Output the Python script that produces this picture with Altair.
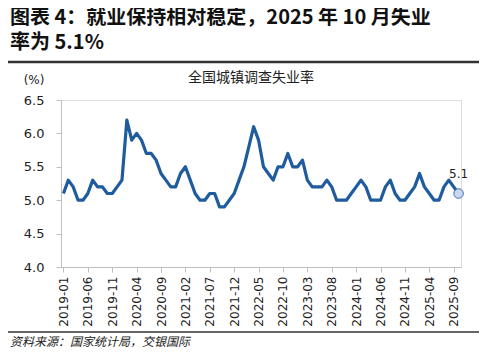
import altair as alt
import pandas as pd

months = [str(p) for p in pd.period_range("2019-01", "2025-10", freq="M")]
rate = [
    5.1, 5.3, 5.2, 5.0, 5.0, 5.1, 5.3, 5.2, 5.2, 5.1, 5.1, 5.2,   # 2019
    5.3, 6.2, 5.9, 6.0, 5.9, 5.7, 5.7, 5.6, 5.4, 5.3, 5.2, 5.2,   # 2020
    5.4, 5.5, 5.3, 5.1, 5.0, 5.0, 5.1, 5.1, 4.9, 4.9, 5.0, 5.1,   # 2021
    5.3, 5.5, 5.8, 6.1, 5.9, 5.5, 5.4, 5.3, 5.5, 5.5, 5.7, 5.5,   # 2022
    5.5, 5.6, 5.3, 5.2, 5.2, 5.2, 5.3, 5.2, 5.0, 5.0, 5.0, 5.1,   # 2023
    5.2, 5.3, 5.2, 5.0, 5.0, 5.0, 5.2, 5.3, 5.1, 5.0, 5.0, 5.1,   # 2024
    5.2, 5.4, 5.2, 5.1, 5.0, 5.0, 5.2, 5.3, 5.2, 5.1,             # 2025
]
tick_labels = ["2019-01", "2019-06", "2019-11", "2020-04", "2020-09", "2021-02",
               "2021-07", "2021-12", "2022-05", "2022-10", "2023-03", "2023-08",
               "2024-01", "2024-06", "2024-11", "2025-04", "2025-09"]
y_ticks = [4.0, 4.5, 5.0, 5.5, 6.0, 6.5]

title = "图表 4：就业保持相对稳定，2025 年 10 月失业\n率为 5.1%"
subtitle = "全国城镇调查失业率"
unit = "(%)"
source = "资料来源：国家统计局，交银国际"

df = pd.DataFrame({"month": months, "rate": rate})
last = df.tail(1)

CJK = "Noto Sans CJK SC"
LAT = "DejaVu Sans"
LINE = "#1F5C9E"

x_enc = alt.X("month:O", sort=months,
              scale=alt.Scale(type="point", paddingOuter=0.3),
              axis=alt.Axis(values=tick_labels, labelAngle=-90, labelFont=LAT,
                            labelFontSize=12, labelColor="#222", labelPadding=4,
                            tickColor="#BFBFBF", tickSize=5, domainColor="#BFBFBF",
                            domainWidth=1, title=None, grid=False, labelOverlap=False,
                            labelBaseline="middle", labelAlign="right"))
y_enc = alt.Y("rate:Q", scale=alt.Scale(domain=[4.0, 6.5], nice=False, zero=False),
              axis=alt.Axis(values=y_ticks, format=".1f", labelFont=LAT,
                            labelFontSize=13, labelColor="#222", labelPadding=12,
                            tickColor="#BFBFBF", tickSize=5, domainColor="#BFBFBF",
                            title=None, grid=False, labelOverlap=False,
                            labelFlush=False))

line = alt.Chart(df).mark_line(color=LINE, strokeWidth=3.2, strokeJoin="round").encode(
    x=x_enc, y=y_enc)
pt = alt.Chart(last).mark_point(filled=True, size=90, fill="#C9D8F0", stroke="#3A6CB0",
                                strokeWidth=1, opacity=1).encode(x=x_enc, y=y_enc)
lbl = alt.Chart(last).mark_text(font=LAT, fontSize=12, color="#222", dy=-20).encode(
    x=x_enc, y=y_enc, text=alt.Text("rate:Q", format=".1f"))


def txt(s, x, y, **kw):
    return alt.Chart(pd.DataFrame({"t": [s]})).mark_text(**kw).encode(
        x=alt.value(x), y=alt.value(y), text="t:N")


def hrule(y, x1, x2, w, c):
    return alt.Chart(pd.DataFrame({"a": [0]})).mark_rule(color=c, strokeWidth=w).encode(
        x=alt.value(x1), x2=alt.value(x2), y=alt.value(y))


tt = txt(title, -51, -76, font=CJK, fontSize=20, fontWeight="bold", color="#111",
         align="left", baseline="alphabetic", lineBreak="\n", lineHeight=25)
r1 = hrule(-38, -53, 418, 2.5, "#333")
st = txt(subtitle, 190, -22, font=CJK, fontSize=14, color="#222", align="center",
         baseline="middle")
un = txt(unit, -27, -20, font=LAT, fontSize=12, color="#222", align="center",
         baseline="middle")
r2 = hrule(232, -53, 418, 1.5, "#333")
src = txt(source, -51, 242, font=CJK, fontSize=12, fontStyle="italic", color="#222",
          align="left", baseline="middle")

chart = alt.layer(line, pt, lbl, tt, r1, st, un, r2, src).properties(
    width=400, height=167,
    padding={"left": 53, "top": 92, "right": 18, "bottom": 85},
    autosize=alt.AutoSizeParams(type="none"),
).configure_view(stroke=None).configure(background="white")

chart.save("out.html", embed_options={"renderer": "svg", "actions": False})
